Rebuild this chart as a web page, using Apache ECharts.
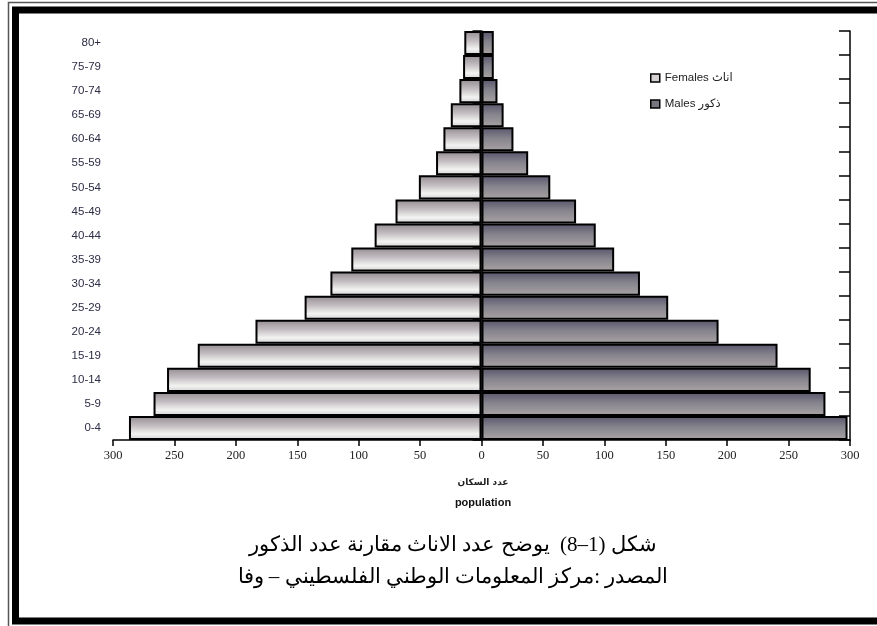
<!DOCTYPE html>
<html>
<head>
<meta charset="utf-8">
<script src="https://cdn.jsdelivr.net/npm/echarts@6/dist/echarts.min.js"></script>
<style>
html,body{margin:0;padding:0;background:#fff;}
#c{width:877px;height:626px;}
</style>
</head>
<body>
<div id="c"></div>
<script>
const ageGroups = ['0-4','5-9','10-14','15-19','20-24','25-29','30-34','35-39','40-44','45-49','50-54','55-59','60-64','65-69','70-74','75-79','80+'];
const females = [287, 267, 256, 231, 184, 144, 123, 106, 87, 70, 51, 37, 31, 25, 18, 15, 14];
const males   = [298, 280, 268, 241, 193, 152, 129, 108, 93, 77, 56, 38, 26, 18, 13, 10, 10];
const xTicks = [-300, 300, 50];
const femaleName = 'Females اناث';
const maleName = 'Males ذكور';
const axisTitleAr = 'عدد السكان';
const axisTitleEn = 'population';
const caption1 = 'شكل (1–8)  يوضح عدد الاناث مقارنة عدد الذكور';
const caption2 = 'المصدر :مركز المعلومات الوطني الفلسطيني – وفا';

const chart = echarts.init(document.getElementById('c'), null, {renderer: 'canvas'});

const femaleFill = new echarts.graphic.LinearGradient(0, 0, 0, 1, [
  {offset: 0, color: '#928a90'},
  {offset: 0.4, color: '#c2bcc0'},
  {offset: 0.75, color: '#f3f3f1'},
  {offset: 1, color: '#d2d0d4'}
]);
const maleFill = new echarts.graphic.LinearGradient(0, 0, 0, 1, [
  {offset: 0, color: '#56546a'},
  {offset: 0.45, color: '#85838c'},
  {offset: 1, color: '#a9a4a4'}
]);

const option = {
  animation: false,
  backgroundColor: '#fff',
  grid: {left: 113, right: 27, top: 31, bottom: 186, containLabel: false},
  legend: {
    orient: 'vertical',
    left: 645, top: 67,
    itemWidth: 9, itemHeight: 8, itemGap: 14,
    icon: 'rect',
    textStyle: {fontFamily: 'Liberation Sans, DejaVu Sans, sans-serif', fontSize: 11.5, color: '#222'},
    data: [
      {name: femaleName, itemStyle: {color: '#d6d2d4', borderColor: '#000', borderWidth: 1.5}},
      {name: maleName, itemStyle: {color: '#77757f', borderColor: '#000', borderWidth: 1.5}}
    ]
  },
  xAxis: {
    type: 'value',
    min: xTicks[0], max: xTicks[1], interval: xTicks[2],
    axisLine: {show: true, lineStyle: {color: '#000', width: 1.5}},
    axisTick: {show: true, length: 6, lineStyle: {color: '#000', width: 1.5}},
    splitLine: {show: false},
    axisLabel: {
      formatter: v => String(Math.abs(v)),
      fontFamily: 'Liberation Serif, serif', fontSize: 12.5, color: '#222', margin: 9
    }
  },
  yAxis: [
    {
      type: 'category', data: ageGroups, position: 'left',
      axisLine: {show: true, lineStyle: {color: '#000', width: 1.5}},
      axisTick: {show: true, length: 9, lineStyle: {color: '#000', width: 1.5}},
      axisLabel: {fontFamily: 'Liberation Sans, Arial, sans-serif', fontSize: 11.5, color: '#2c2c44', margin: 12}
    },
    {
      type: 'category', data: ageGroups, position: 'right',
      axisLine: {show: true, lineStyle: {color: '#000', width: 1.5}},
      axisTick: {show: true, inside: true, length: 11, lineStyle: {color: '#000', width: 1.5}},
      axisLabel: {show: false}
    }
  ],
  series: [
    {
      name: femaleName, type: 'bar', stack: 'pop',
      barCategoryGap: '0%',
      data: females.map(v => -v),
      itemStyle: {color: femaleFill, borderColor: '#000', borderWidth: 2}
    },
    {
      name: maleName, type: 'bar', stack: 'pop',
      barCategoryGap: '0%',
      data: males,
      itemStyle: {color: maleFill, borderColor: '#000', borderWidth: 2}
    }
  ],
  graphic: [
    {type: 'rect', silent: true, shape: {x: 8.5, y: 2.5, width: 1000, height: 1000},
     style: {fill: null, stroke: '#555', lineWidth: 1.5}},
    {type: 'rect', silent: true, shape: {x: 15.5, y: 10, width: 1000, height: 611},
     style: {fill: null, stroke: '#000', lineWidth: 7}},
    {type: 'text', silent: true, x: 483, y: 478,
     style: {text: axisTitleAr, font: 'bold 9px "DejaVu Sans", sans-serif', fill: '#222', textAlign: 'center'}},
    {type: 'text', silent: true, x: 483, y: 497,
     style: {text: axisTitleEn, font: 'bold 11px "Liberation Sans", Arial, sans-serif', fill: '#111', textAlign: 'center'}},
    {type: 'text', silent: true, x: 453, y: 535,
     style: {text: caption1, font: '21px "Liberation Serif", "DejaVu Serif", serif', fill: '#000', textAlign: 'center'}},
    {type: 'text', silent: true, x: 453, y: 567,
     style: {text: caption2, font: '21px "Liberation Serif", "DejaVu Serif", serif', fill: '#000', textAlign: 'center'}}
  ]
};
chart.setOption(option);
</script>
</body>
</html>
